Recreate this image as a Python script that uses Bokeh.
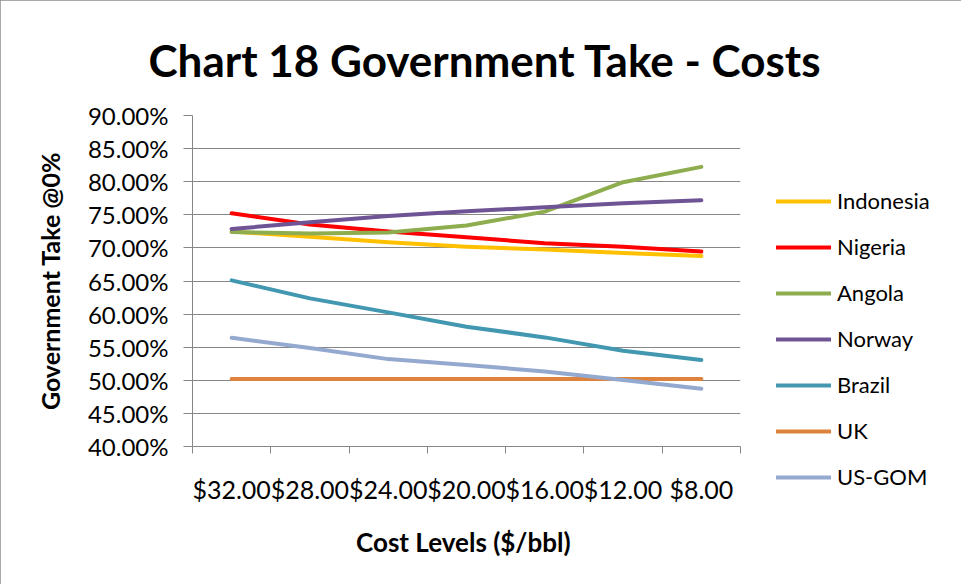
from bokeh.plotting import figure
from bokeh.models import FixedTicker, NumeralTickFormatter, Range1d, Title
from bokeh.embed import file_html
from bokeh.resources import INLINE

categories = ["$32.00", "$28.00", "$24.00", "$20.00", "$16.00", "$12.00", "$8.00"]
indonesia = [0.7246, 0.7170, 0.7085, 0.7019, 0.6974, 0.6923, 0.6878]
nigeria = [0.7523, 0.7352, 0.7246, 0.7160, 0.7070, 0.7019, 0.6944]
angola = [0.7241, 0.7216, 0.7231, 0.7337, 0.7548, 0.7992, 0.8224]
norway = [0.7286, 0.7387, 0.7483, 0.7553, 0.7614, 0.7674, 0.7720]
brazil = [0.6510, 0.6238, 0.6026, 0.5810, 0.5648, 0.5447, 0.5305]
uk = [0.5018, 0.5018, 0.5018, 0.5018, 0.5018, 0.5018, 0.5018]
us_gom = [0.5643, 0.5487, 0.5320, 0.5230, 0.5134, 0.5003, 0.4872]

series_names = ["Indonesia", "Nigeria", "Angola", "Norway", "Brazil", "UK", "US-GOM"]
series_values = [indonesia, nigeria, angola, norway, brazil, uk, us_gom]
series_colors = ["#FFC000", "#FF0000", "#8EAD4E", "#6F5495", "#4298B0", "#DE833D", "#93A9CF"]

y_ticks = [0.40, 0.45, 0.50, 0.55, 0.60, 0.65, 0.70, 0.75, 0.80, 0.85, 0.90]

FONT = "Lato"

p = figure(frame_width=548, frame_height=331, output_backend="svg", toolbar_location=None,
           x_range=Range1d(0, len(categories)), y_range=Range1d(0.40, 0.90),
           min_border_left=192, min_border_right=216, min_border_top=115, min_border_bottom=138)
p.outline_line_color = None
p.background_fill_color = "white"
p.border_fill_color = "white"
p.styles = {"outline": "1px solid #8c8c8c", "outline-offset": "-1px"}

xs = [i + 0.5 for i in range(len(categories))]
for name, vals, col in zip(series_names, series_values, series_colors):
    p.line(xs, vals, line_color=col, line_width=4, line_cap="round", line_join="round", legend_label=name)

# x axis
p.xaxis.ticker = FixedTicker(ticks=xs, minor_ticks=list(range(len(categories) + 1)))
p.xaxis.major_label_overrides = {x: c for x, c in zip(xs, categories)}
p.xaxis.major_tick_out = 0
p.xaxis.major_tick_in = 0
p.xaxis.minor_tick_out = 7
p.xaxis.minor_tick_in = 0
p.xaxis.minor_tick_line_color = "#868686"
p.xaxis.axis_line_color = "#868686"
p.xaxis.major_label_text_font = FONT
p.xaxis.major_label_text_font_size = "25px"
p.xaxis.major_label_text_color = "#000000"
p.xaxis.major_label_standoff = 20
p.xaxis.axis_label = "Cost Levels  ($/bbl)"
p.xaxis.axis_label_text_font = FONT
p.xaxis.axis_label_text_font_style = "bold"
p.xaxis.axis_label_text_font_size = "26px"
p.xaxis.axis_label_text_color = "#000000"
p.xaxis.axis_label_standoff = 19

# y axis
p.yaxis.ticker = FixedTicker(ticks=y_ticks, minor_ticks=[])
p.yaxis.formatter = NumeralTickFormatter(format="0.00%")
p.yaxis.major_tick_out = 9
p.yaxis.major_tick_in = 0
p.yaxis.major_tick_line_color = "#868686"
p.yaxis.axis_line_color = "#868686"
p.yaxis.major_label_text_font = FONT
p.yaxis.major_label_text_font_size = "24px"
p.yaxis.major_label_text_color = "#000000"
p.yaxis.major_label_standoff = 15
p.yaxis.axis_label = "Government Take @0%"
p.yaxis.axis_label_text_font = FONT
p.yaxis.axis_label_text_font_style = "bold"
p.yaxis.axis_label_text_font_size = "25px"
p.yaxis.axis_label_text_color = "#000000"
p.yaxis.axis_label_standoff = 20

p.xgrid.grid_line_color = None
p.ygrid.ticker = FixedTicker(ticks=y_ticks)
p.ygrid.grid_line_color = "#868686"
p.ygrid.grid_line_width = 1

# legend, placed in the right-hand panel
lg = p.legend[0]
p.center.remove(lg)
lg.location = (36, -44)
lg.border_line_color = None
lg.background_fill_alpha = 0
lg.padding = 5
lg.margin = 0
lg.glyph_width = 55
lg.glyph_height = 26
lg.label_height = 26
lg.spacing = 19
lg.label_standoff = 6
lg.label_text_font = FONT
lg.label_text_font_size = "22px"
lg.label_text_color = "#000000"
p.add_layout(lg, "right")

# title
p.add_layout(Title(text="Chart 18 Government Take - Costs", align="left", offset=-44,
                   text_font=FONT, text_font_style="bold", text_font_size="44px",
                   text_color="#000000", standoff=60), "above")

open("out.html", "w").write(file_html(p, INLINE))
